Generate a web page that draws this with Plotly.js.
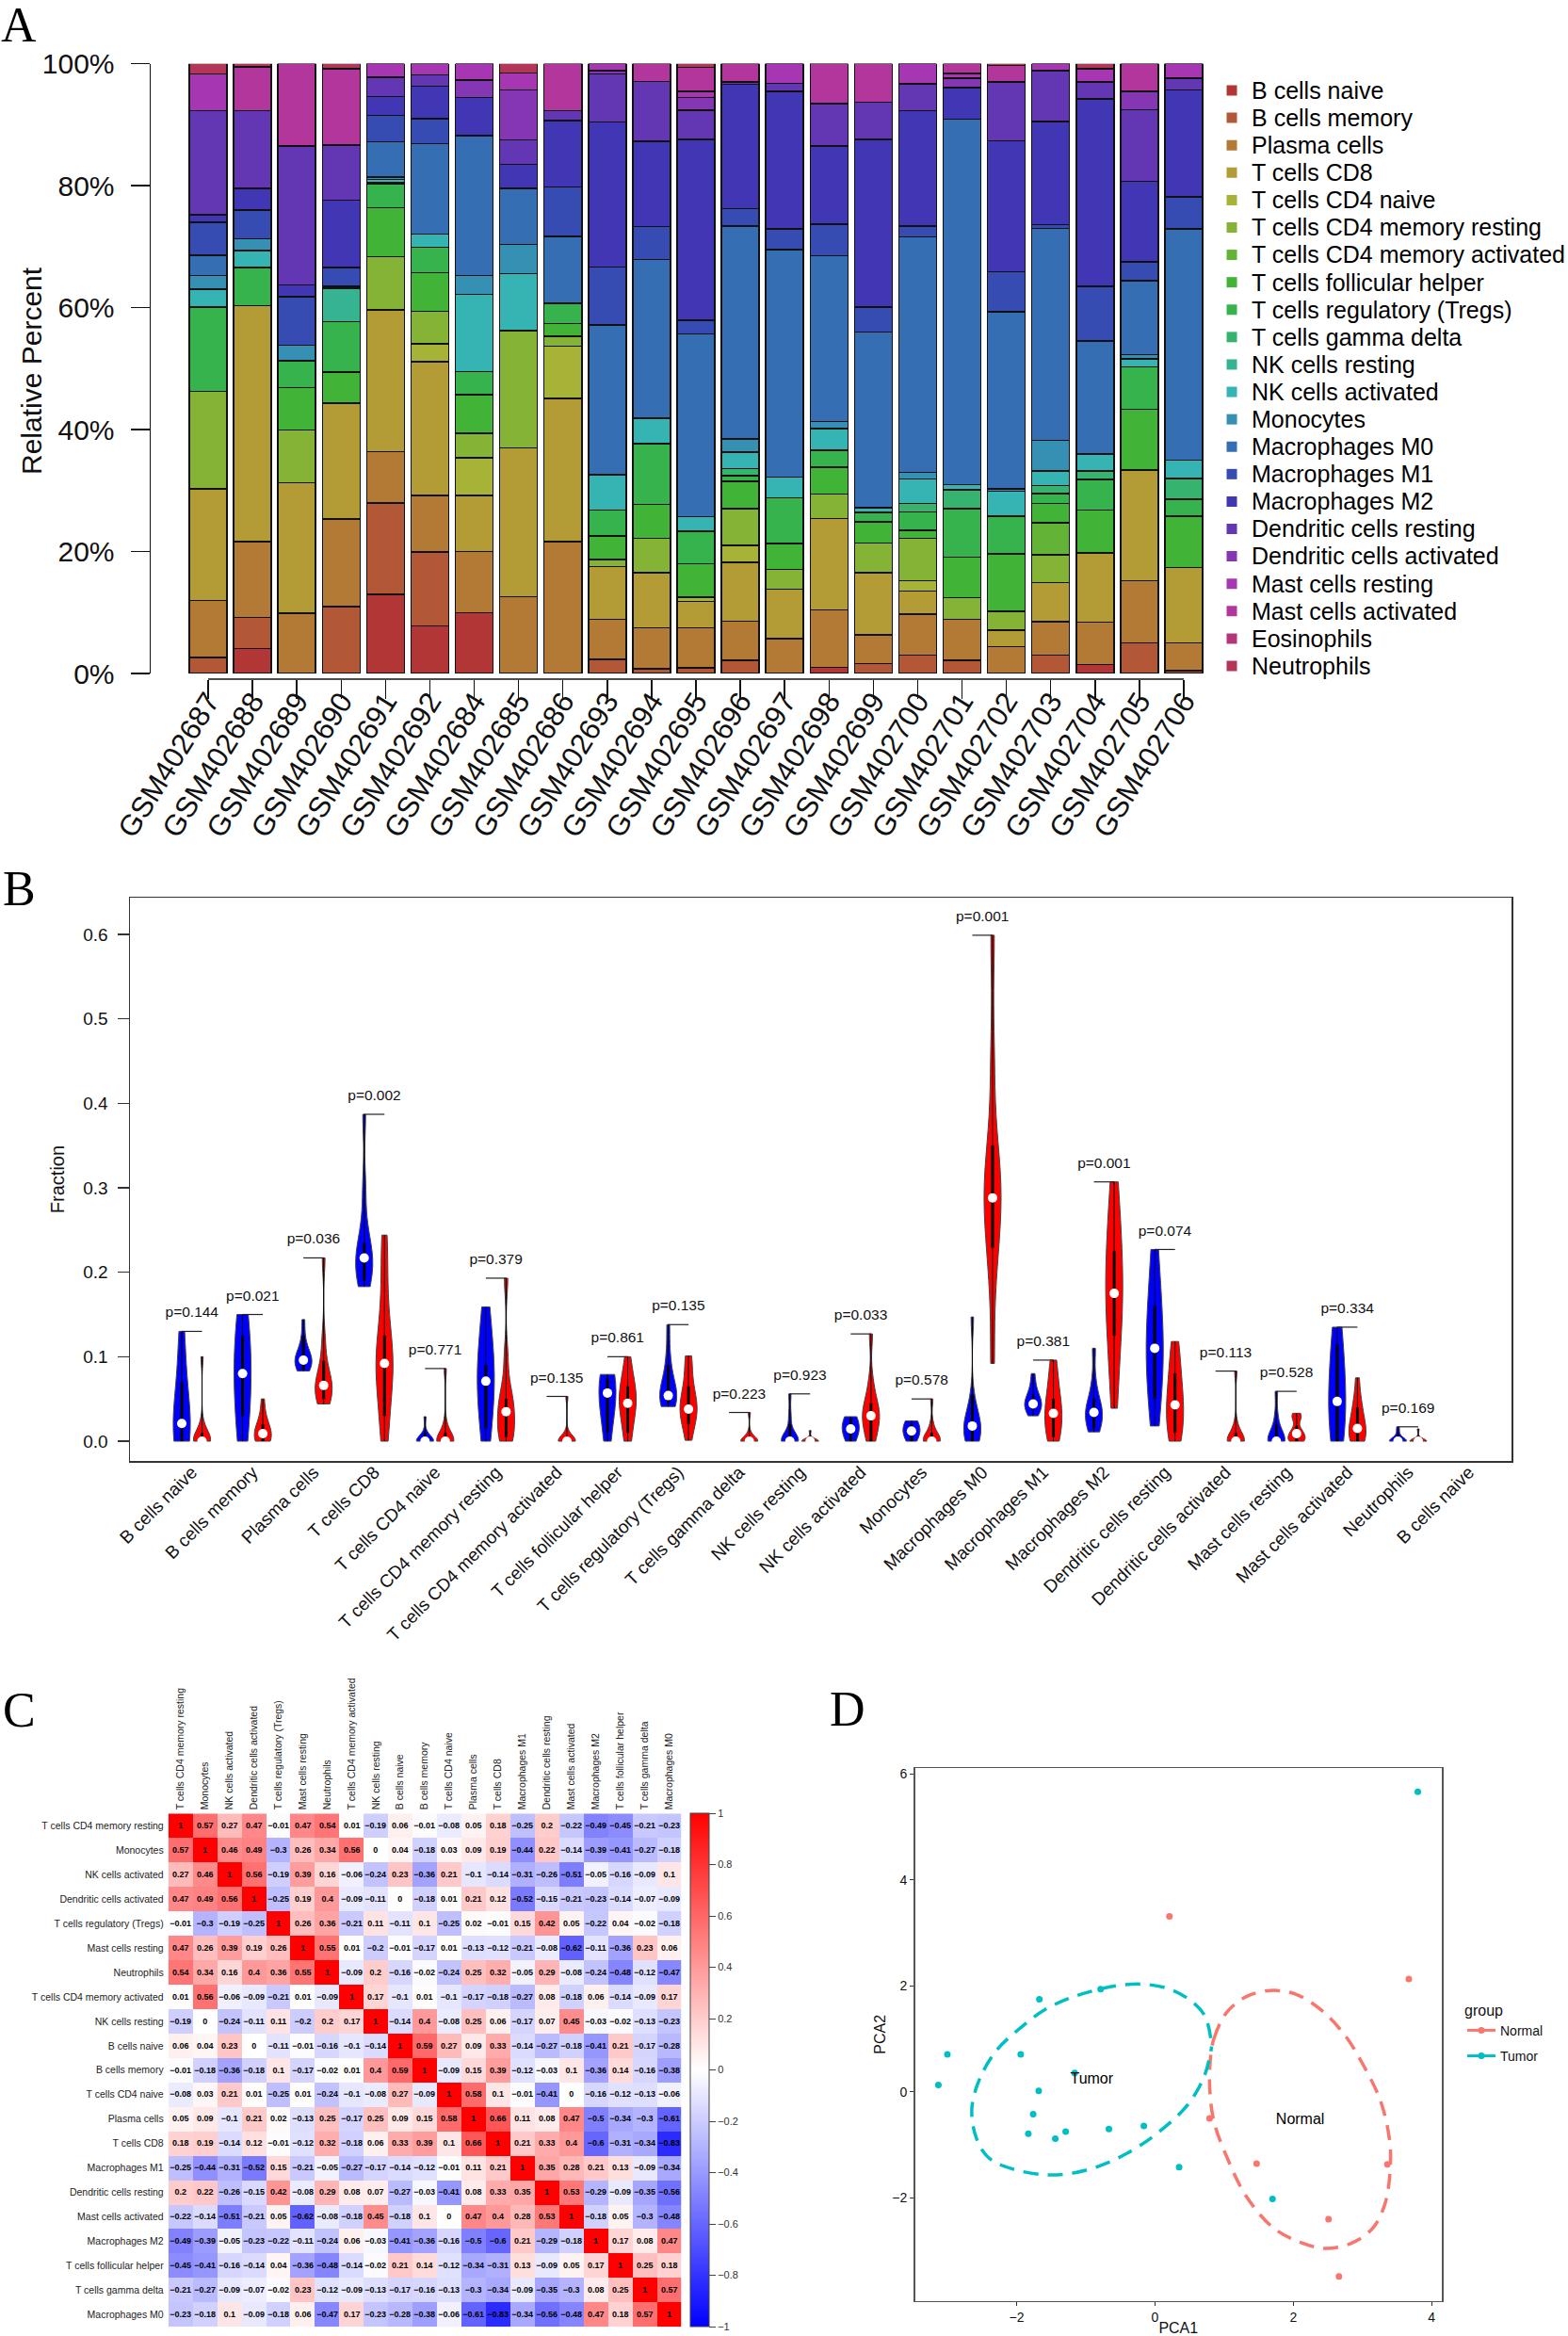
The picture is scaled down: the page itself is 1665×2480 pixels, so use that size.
<!DOCTYPE html>
<html><head><meta charset="utf-8">
<script src="https://cdn.plot.ly/plotly-3.0.1.min.js"></script>
<style>html,body{margin:0;padding:0;background:#fff}#c{width:1665px;height:2480px}</style>
</head><body><div id="c"></div>
<script>
/* ---------- Panel A data ---------- */
const samples=["GSM402687","GSM402688","GSM402689","GSM402690","GSM402691","GSM402692","GSM402684","GSM402685","GSM402686","GSM402693","GSM402694","GSM402695","GSM402696","GSM402697","GSM402698","GSM402699","GSM402700","GSM402701","GSM402702","GSM402703","GSM402704","GSM402705","GSM402706"];
const cellTypes=["B cells naive","B cells memory","Plasma cells","T cells CD8","T cells CD4 naive","T cells CD4 memory resting","T cells CD4 memory activated","T cells follicular helper","T cells regulatory (Tregs)","T cells gamma delta","NK cells resting","NK cells activated","Monocytes","Macrophages M0","Macrophages M1","Macrophages M2","Dendritic cells resting","Dendritic cells activated","Mast cells resting","Mast cells activated","Eosinophils","Neutrophils"];
const palette=["#B33636","#B35836","#B37A36","#B39C36","#A7B336","#85B336","#63B336","#41B336","#36B34C","#36B36E","#36B390","#36B3B3","#3690B3","#366EB3","#364CB3","#4136B3","#6336B3","#8536B3","#A736B3","#B3369C","#B3367A","#B33658"];
const fractions=[
[0,2.6,9.4,18.3,0,16,0,0,13.8,0,0,2.9,2.3,3.3,5.4,1.2,17.1,0,6,0,0,1.7],
[4.1,5.1,12.4,38.7,0,0,0,0,6.3,0,0,2.8,1.9,0,4.7,3.6,12.7,0,0,7.2,0,.5],
[0,0,9.9,21.4,0,8.6,0,7,4.4,0,0,0,2.5,0,8,1.9,22.8,0,0,13.5,0,0],
[0,11,14.3,19,0,0,0,5.1,8.3,0,5.5,.3,0,0,3.1,11,9.1,0,0,12.5,0,.8],
[13,15,8.4,23.2,0,8.8,0,8,3.9,0,.3,.4,.4,5.8,4.3,3.1,3.2,0,2.2,0,0,0],
[7.8,12.1,9.3,21.9,3,5.3,0,6.3,4.2,0,0,2.2,0,14.8,4.1,5.3,1.9,0,1.8,0,0,0],
[10,0,10,9.2,6.2,4,0,6.3,3.8,0,0,12.7,3.1,22.9,0,6.3,0,2.8,2.7,0,0,0],
[0,0,12.6,24.4,0,19.2,0,0,0,0,0,9.4,4.8,9.2,0,3.9,4,8.2,2.8,0,0,1.5],
[0,0,21.6,23.5,8.6,1.6,0,2.1,3.3,0,0,0,0,11,8.1,10.9,1.6,0,0,7.7,0,0],
[0,2.3,6.6,8.6,0,1.2,0,3.8,4.3,0,0,5.8,0,24.5,9.5,23.8,7.8,.6,1.1,0,0,0],
[0,.8,6.7,9,0,5.7,0,5.5,10,0,0,4.2,0,26,5.4,14,9.8,0,0,2.9,0,0],
[0,.9,6.6,4.3,.7,0,0,5.5,5.3,0,0,2.4,0,30,2.2,29.7,4.8,2.1,1,3.9,0,.6],
[0,2.2,6.4,9.6,2.8,6,0,4.5,.9,1.2,0,2.7,2.1,34.9,2.9,20.3,.4,0,0,3,0,0],
[0,0,5.7,8.1,0,3.3,0,4.2,7.5,0,0,3.4,0,37.3,3.4,22.6,1.3,0,3.2,0,0,0],
[1,0,9.4,15,0,4,0,4.4,2.8,0,0,3.6,1.1,27.2,5.2,12.8,7,0,0,6.5,0,0],
[0,1.6,4.7,10.2,0,4.9,0,3.5,1.5,0,0,.8,0,28.8,4.1,27.5,6.1,0,0,6.3,0,0],
[0,3,6.7,3.8,1.7,7,0,1.3,3,1.4,0,4,1.1,38.6,1.8,18.9,4.4,0,3.3,0,0,0],
[0,2.2,6.7,0,0,3.5,0,6.7,7.9,3.1,0,.9,0,59.9,0,5.2,0,1.5,.8,1.6,0,0],
[0,0,4.4,2.7,0,3.1,0,9.4,6.2,0,0,4.1,.4,29,6.6,21.5,9.6,0,0,2.7,0,.3],
[0,3,5.5,6.4,0,4.6,5.2,3.2,1.6,1.3,0,2.4,5,34.8,.6,16.9,8.4,0,1.1,0,0,0],
[1.5,0,6.9,11.4,0,0,0,7,5,1.4,0,2.8,0,18.5,9,30.7,2.8,0,2.2,0,0,.8],
[0,5,10.2,18.2,0,0,0,9.9,7,0,0,1.3,.7,12.1,3.1,13.2,11.8,3,0,4.5,0,0],
[0,.5,4.5,12.4,0,0,0,8.4,2.8,3.4,0,3,0,37.9,5.3,17.5,1.9,0,2.4,0,0,0]];

/* ---------- Panel B data: one entry per violin group ---------- */
const violinGroups=["B cells naive","B cells memory","Plasma cells","T cells CD8","T cells CD4 naive","T cells CD4 memory resting","T cells CD4 memory activated","T cells follicular helper","T cells regulatory (Tregs)","T cells gamma delta","NK cells resting","NK cells activated","Monocytes","Macrophages M0","Macrophages M1","Macrophages M2","Dendritic cells resting","Dendritic cells activated","Mast cells resting","Mast cells activated","Neutrophils","B cells naive"];
const pValues=["0.144","0.021","0.036","0.002","0.771","0.379","0.135","0.861","0.135","0.223","0.923","0.033","0.578","0.001","0.381","0.001","0.074","0.113","0.528","0.334","0.169",null];
const tumorSamples=[
[0,0,.005,.01,.02,.021,.03,.05,.08,.11,.13],[0,.01,.03,.06,.08,.08,.1,.12,.14,.15],[.083,.088,.09,.093,.096,.098,.1,.105,.12,.144],[.183,.19,.2,.21,.217,.22,.23,.25,.3,.387],
[0,0,0,0,0,0,0,.002,.01,.029],[0,.01,.04,.06,.071,.08,.09,.11,.14,.159],null,[0,.01,.03,.05,.057,.06,.065,.07,.075,.079],[.041,.045,.05,.052,.054,.058,.065,.08,.1,.138],null,
[0,0,0,0,0,0,.002,.01,.03,.056],[0,.003,.008,.012,.0145,.017,.02,.024,.027,.029],[0,.002,.006,.01,.012,.014,.016,.02,.023,.024],[0,0,.005,.01,.018,.02,.025,.03,.05,.147],[.03,.035,.04,.042,.044,.046,.05,.055,.065,.08],
[.011,.015,.02,.03,.034,.037,.042,.05,.07,.11],[.018,.05,.07,.09,.11,.12,.14,.16,.2,.227],null,[0,0,0,0,0,.002,.005,.015,.03,.059],[0,.01,.02,.03,.047,.06,.08,.1,.125,.135],[0,0,0,0,0,0,0,.002,.01,.017],null];
const normalSamples=[
[0,0,0,0,0,0,.005,.01,.02,.1],[0,0,0,.005,.009,.01,.015,.02,.03,.05],[.044,.05,.055,.06,.066,.07,.075,.09,.12,.217],[0,.03,.06,.08,.092,.1,.12,.15,.2,.244],
[0,0,0,0,0,0,.002,.005,.02,.086],[0,.005,.01,.02,.035,.04,.05,.06,.1,.193],[0,0,0,0,0,0,0,.003,.01,.053],[0,.01,.03,.04,.045,.05,.06,.065,.08,.1],[.001,.02,.03,.035,.038,.045,.055,.065,.09,.101],[0,0,0,0,0,0,0,.002,.01,.034],
[0,0,0,0,0,0,0,0,0,.0125],[0,.005,.02,.025,.03,.035,.04,.05,.07,.127],[0,0,0,0,0,.002,.005,.01,.02,.05],[.092,.2,.24,.27,.288,.3,.32,.35,.45,.599],[0,.005,.015,.025,.033,.04,.05,.06,.08,.096],
[.039,.09,.125,.15,.175,.19,.21,.24,.27,.307],[0,.005,.02,.03,.043,.05,.065,.08,.1,.118],[0,0,0,0,0,0,.003,.01,.02,.083],[0,0,.002,.005,.009,.01,.015,.025,.03,.033],[0,0,.005,.01,.015,.02,.03,.04,.05,.075],[0,0,0,0,0,0,0,0,0,.0145],null];
const tumorBandwidth=[.04,.05,.012,.025,.006,.04,0,.03,.018,0,.009,.012,.01,.018,.01,.015,.05,0,.011,.045,.004,0];
const normalBandwidth=[.01,.012,.018,.035,.01,.02,.006,.02,.018,.005,.003,.016,.008,.05,.02,.05,.025,.009,.005,.015,.003,0];
const tumorMedian=[.021,.08,.096,.217,0,.071,null,.057,.054,null,0,.0145,.012,.018,.044,.034,.11,null,0,.047,0,null];
const normalMedian=[0,.009,.066,.092,0,.035,0,.045,.038,0,0,.03,0,.288,.033,.175,.043,0,.009,.015,0,null];
const tumorQ1=[0,.03,.085,.19,0,.015,null,.01,.045,null,0,0,0,0,.037,.015,.05,null,0,0,0,null];
const tumorQ3=[.07,.125,.125,.235,.01,.09,null,.075,.09,null,.02,.027,.02,.055,.055,.05,.16,null,.02,.115,.008,null];
const normalQ1=[0,0,.05,.03,0,.005,0,.01,.02,0,0,0,0,.229,.005,.125,.01,0,0,0,0,null];
const normalQ3=[.01,.02,.095,.125,.01,.05,.005,.065,.065,.005,.004,.045,.01,.35,.05,.225,.08,.01,.018,.04,.006,null];

/* ---------- Panel C data ---------- */
const corrLabels=["T cells CD4 memory resting","Monocytes","NK cells activated","Dendritic cells activated","T cells regulatory (Tregs)","Mast cells resting","Neutrophils","T cells CD4 memory activated","NK cells resting","B cells naive","B cells memory","T cells CD4 naive","Plasma cells","T cells CD8","Macrophages M1","Dendritic cells resting","Mast cells activated","Macrophages M2","T cells follicular helper","T cells gamma delta","Macrophages M0"];
const corrMatrix=[
[1,.57,.27,.47,-.01,.47,.54,.01,-.19,.06,-.01,-.08,.05,.18,-.25,.2,-.22,-.49,-.45,-.21,-.23],
[.57,1,.46,.49,-.3,.26,.34,.56,0,.04,-.18,.03,.09,.19,-.44,.22,-.14,-.39,-.41,-.27,-.18],
[.27,.46,1,.56,-.19,.39,.16,-.06,-.24,.23,-.36,.21,-.1,-.14,-.31,-.26,-.51,-.05,-.16,-.09,.1],
[.47,.49,.56,1,-.25,.19,.4,-.09,-.11,0,-.18,.01,.21,.12,-.52,-.15,-.21,-.23,-.14,-.07,-.09],
[-.01,-.3,-.19,-.25,1,.26,.36,-.21,.11,-.11,.1,-.25,.02,-.01,.15,.42,.05,-.22,.04,-.02,-.18],
[.47,.26,.39,.19,.26,1,.55,.01,-.2,-.01,-.17,.01,-.13,-.12,-.21,-.08,-.62,-.11,-.36,.23,.06],
[.54,.34,.16,.4,.36,.55,1,-.09,.2,-.16,-.02,-.24,.25,.32,-.05,.29,-.08,-.24,-.48,-.12,-.47],
[.01,.56,-.06,-.09,-.21,.01,-.09,1,.17,-.1,.01,-.1,-.17,-.18,-.27,.08,-.18,.06,-.14,-.09,.17],
[-.19,0,-.24,-.11,.11,-.2,.2,.17,1,-.14,.4,-.08,.25,.06,-.17,.07,.45,-.03,-.02,-.13,-.23],
[.06,.04,.23,0,-.11,-.01,-.16,-.1,-.14,1,.59,.27,.09,.33,-.14,-.27,-.18,-.41,.21,-.17,-.28],
[-.01,-.18,-.36,-.18,.1,-.17,-.02,.01,.4,.59,1,-.09,.15,.39,-.12,-.03,.1,-.36,.14,-.16,-.38],
[-.08,.03,.21,.01,-.25,.01,-.24,-.1,-.08,.27,-.09,1,.58,.1,-.01,-.41,0,-.16,-.12,-.13,-.06],
[.05,.09,-.1,.21,.02,-.13,.25,-.17,.25,.09,.15,.58,1,.66,.11,.08,.47,-.5,-.34,-.3,-.61],
[.18,.19,-.14,.12,-.01,-.12,.32,-.18,.06,.33,.39,.1,.66,1,.21,.33,.4,-.6,-.31,-.34,-.83],
[-.25,-.44,-.31,-.52,.15,-.21,-.05,-.27,-.17,-.14,-.12,-.01,.11,.21,1,.35,.28,.21,.13,-.09,-.34],
[.2,.22,-.26,-.15,.42,-.08,.29,.08,.07,-.27,-.03,-.41,.08,.33,.35,1,.53,-.29,-.09,-.35,-.56],
[-.22,-.14,-.51,-.21,.05,-.62,-.08,-.18,.45,-.18,.1,0,.47,.4,.28,.53,1,-.18,.05,-.3,-.48],
[-.49,-.39,-.05,-.23,-.22,-.11,-.24,.06,-.03,-.41,-.36,-.16,-.5,-.6,.21,-.29,-.18,1,.17,.08,.47],
[-.45,-.41,-.16,-.14,.04,-.36,-.48,-.14,-.02,.21,.14,-.12,-.34,-.31,.13,-.09,.05,.17,1,.25,.18],
[-.21,-.27,-.09,-.07,-.02,.23,-.12,-.09,-.13,-.17,-.16,-.13,-.3,-.34,-.09,-.35,-.3,.08,.25,1,.57],
[-.23,-.18,.1,-.09,-.18,.06,-.47,.17,-.23,-.28,-.38,-.06,-.61,-.83,-.34,-.56,-.48,.47,.18,.57,1]];

/* ---------- Panel D data ---------- */
const tumorX=[3.8,-.785,-1.67,-3,-1.94,-3.13,-1.16,-1.68,-1.76,-1.83,-1.44,-1.29,-.665,-.16,.35,1.7];
const tumorY=[5.66,1.94,1.75,.71,.71,.13,.36,.02,-.42,-.79,-.88,-.75,-.7,-.64,-1.42,-2.02];
const normalX=[.21,3.67,.79,1.47,3.36,2.51,2.66];
const normalY=[3.31,2.13,-.5,-1.35,-1.365,-2.4,-3.48];
const tumorEllipseX=[.807,.715,.467,.184,-.17,-.524,-.878,-1.231,-1.585,-1.939,-2.293,-2.541,-2.647,-2.576,-2.399,-2.081,-1.585,-1.161,-.736,-.311,.042,.467,.715,.821];
const tumorEllipseY=[1.016,1.452,1.77,1.952,2.032,2.008,1.913,1.77,1.556,1.214,.778,.222,-.333,-.889,-1.246,-1.444,-1.563,-1.524,-1.365,-1.087,-.77,-.254,.302,.857];
const normalEllipseX=[.807,.856,1.033,1.316,1.67,2.024,2.378,2.732,3.015,3.263,3.39,3.404,3.333,3.156,2.873,2.484,2.095,1.706,1.316,1.033,.856,.793,.807];
const normalEllipseY=[.698,1.016,1.492,1.794,1.913,1.849,1.571,1.095,.5,-.175,-.889,-1.365,-2.079,-2.556,-2.833,-2.952,-2.833,-2.556,-1.96,-1.206,-.571,.063,.698];

/* ---------- Layout helpers ---------- */
const W=1665,H=2480;
const fx=(a,b)=>[a/W,b/W];
const fy=(t,b)=>[1-b/H,1-t/H];
const SANS="Liberation Sans, Arial, sans-serif";
const SERIF="Liberation Serif, Times New Roman, serif";
const RED="#FF0000",BLUE="#0000FF",CORAL="#F8766D",TEAL="#00BFC4";
const traces=[];

/* Panel A: stacked bars */
cellTypes.forEach((name,k)=>traces.push({type:"bar",x:samples,y:fractions.map(r=>r[k]),name,marker:{color:palette[k],line:{color:"#111",width:1.5}},width:.85,xaxis:"x",yaxis:"y",showlegend:false,hoverinfo:"skip"}));
/* Panel A legend drawn on its own hidden axes */
const rowIdx=cellTypes.map((_,i)=>i);
traces.push({type:"scatter",mode:"markers",x:cellTypes.map(()=>0),y:rowIdx,marker:{symbol:"square",size:11,color:palette},xaxis:"x5",yaxis:"y5",showlegend:false,hoverinfo:"skip"});
traces.push({type:"scatter",mode:"text",cliponaxis:false,x:cellTypes.map(()=>1.75),y:rowIdx.map(i=>i+.09),text:cellTypes,textposition:"middle right",textfont:{family:SANS,size:25,color:"#000"},xaxis:"x5",yaxis:"y5",showlegend:false,hoverinfo:"skip"});

/* Panel B: violins */
const tumorPos=i=>3*i+1, normalPos=i=>3*i+2, groupPos=i=>3*i+1.5;
function addViolins(sets,bw,color,pos){
  sets.forEach((s,i)=>{ if(!s) return;
    traces.push({type:"violin",x0:pos(i),y:s,name:violinGroups[i],width:.84,scalemode:"width",spanmode:"hard",bandwidth:bw[i],points:false,
      side:"both",fillcolor:color,line:{color:"#444",width:1},box:{visible:false},meanline:{visible:false},xaxis:"x2",yaxis:"y2",showlegend:false,hoverinfo:"skip",orientation:"v"});
  });
}
addViolins(tumorSamples,tumorBandwidth,BLUE,tumorPos);
addViolins(normalSamples,normalBandwidth,RED,normalPos);
function addInner(med,q1,q3,sets,pos){
  const xs=med.map((_,i)=>pos(i));
  const hi=sets.map((s,i)=>s?Math.max(...s)-med[i]:0), lo=sets.map((s,i)=>s?med[i]-Math.min(...s):0);
  traces.push({type:"scatter",mode:"markers",x:xs,y:med,marker:{size:1,color:"#000"},error_y:{type:"data",symmetric:false,array:hi,arrayminus:lo,thickness:1,width:0,color:"#000"},xaxis:"x2",yaxis:"y2",showlegend:false,hoverinfo:"skip"});
  traces.push({type:"scatter",mode:"markers",x:xs,y:med,marker:{size:10,color:"#fff"},error_y:{type:"data",symmetric:false,array:q3.map((v,i)=>v===null?0:v-med[i]),arrayminus:q1.map((v,i)=>v===null?0:med[i]-v),thickness:3,width:0,color:"#000"},xaxis:"x2",yaxis:"y2",showlegend:false,hoverinfo:"skip"});
}
addInner(tumorMedian,tumorQ1,tumorQ3,tumorSamples,tumorPos);
addInner(normalMedian,normalQ1,normalQ3,normalSamples,normalPos);
/* p-value brackets and labels */
const groupMax=violinGroups.map((_,i)=>Math.max(...(tumorSamples[i]||[0]),...(normalSamples[i]||[0])));
const brX=[],brY=[],pX=[],pY=[],pT=[];
pValues.forEach((p,i)=>{ if(p===null) return;
  brX.push(tumorPos(i),normalPos(i),null); brY.push(groupMax[i],groupMax[i],null);
  pX.push(groupPos(i)); pY.push(groupMax[i]+.021); pT.push("p="+p);
});
traces.push({type:"scatter",mode:"lines",x:brX,y:brY,line:{color:"#222",width:1.2},xaxis:"x2",yaxis:"y2",showlegend:false,hoverinfo:"skip"});
traces.push({type:"scatter",mode:"text",x:pX,y:pY,text:pT,textposition:"middle center",textfont:{family:SANS,size:15.5,color:"#111"},xaxis:"x2",yaxis:"y2",showlegend:false,hoverinfo:"skip"});

/* Panel C: correlation heatmap */
const fmt=v=>String(v).replace("-","\u2212");
traces.push({type:"heatmap",x:corrLabels,y:corrLabels,z:corrMatrix,zmin:-1,zmax:1,
  colorscale:[[0,BLUE],[.5,"#FFFFFF"],[1,RED]],text:corrMatrix.map(r=>r.map(fmt)),texttemplate:"%{text}",
  textfont:{family:"Liberation Sans, Arial, sans-serif",size:9,color:"#000",weight:700},xgap:0,ygap:0,xaxis:"x3",yaxis:"y3",hoverinfo:"skip",
  colorbar:{x:733/W,xanchor:"left",y:1-2470/H,yanchor:"bottom",len:545/H,lenmode:"fraction",thickness:20,thicknessmode:"pixels",xpad:0,ypad:0,outlinewidth:1,outlinecolor:"#444",
    tickvals:[-1,-.8,-.6,-.4,-.2,0,.2,.4,.6,.8,1],ticktext:["\u22121","\u22120.8","\u22120.6","\u22120.4","\u22120.2","0","0.2","0.4","0.6","0.8","1"],ticks:"outside",ticklen:7,tickcolor:"#444",tickfont:{family:SANS,size:11,color:"#333"}}});

/* Panel D: PCA */
traces.push({type:"scatter",mode:"lines",x:normalEllipseX,y:normalEllipseY,line:{color:CORAL,width:3.5,dash:"16px,10px",shape:"spline"},xaxis:"x4",yaxis:"y4",showlegend:false,hoverinfo:"skip"});
traces.push({type:"scatter",mode:"lines",x:tumorEllipseX,y:tumorEllipseY,line:{color:TEAL,width:3.5,dash:"16px,10px",shape:"spline"},xaxis:"x4",yaxis:"y4",showlegend:false,hoverinfo:"skip"});
traces.push({type:"scatter",mode:"markers",name:"Normal points",x:normalX,y:normalY,marker:{color:CORAL,size:7},xaxis:"x4",yaxis:"y4",showlegend:false,hoverinfo:"skip"});
traces.push({type:"scatter",mode:"markers",name:"Tumor points",x:tumorX,y:tumorY,marker:{color:TEAL,size:7},xaxis:"x4",yaxis:"y4",showlegend:false,hoverinfo:"skip"});
traces.push({type:"scatter",mode:"lines+markers",name:"Normal",x:[null],y:[null],line:{color:CORAL,width:3},marker:{color:CORAL,size:7},xaxis:"x4",yaxis:"y4",hoverinfo:"skip",legendgroup:"n"});
traces.push({type:"scatter",mode:"lines+markers",name:"Tumor",x:[null],y:[null],line:{color:TEAL,width:3},marker:{color:TEAL,size:7},xaxis:"x4",yaxis:"y4",hoverinfo:"skip",legendgroup:"t"});
traces.push({type:"scatter",mode:"text",x:[-.913,2.1],y:[.222,-.53],text:["Tumor","Normal"],textposition:"middle center",textfont:{family:SANS,size:16,color:"#000"},xaxis:"x4",yaxis:"y4",showlegend:false,hoverinfo:"skip"});

const panelLetter=(t,x,y)=>({text:t,x:x/W,y:1-y/H,xref:"paper",yref:"paper",xanchor:"center",yanchor:"middle",showarrow:false,font:{family:SERIF,size:52,color:"#000"}});

const layout={
  width:W,height:H,margin:{l:0,r:0,t:0,b:0,pad:0},paper_bgcolor:"#fff",plot_bgcolor:"#fff",barmode:"stack",barnorm:"percent",
  font:{family:SANS,color:"#000"},
  xaxis:{domain:fx(197.5,1280.5),range:[-.5,22.5],type:"category",anchor:"free",position:1-721/H,showline:false,showgrid:false,zeroline:false,ticks:"outside",ticklen:20,tickwidth:1.5,tickcolor:"#111",tickangle:-58,ticklabelstandoff:-28,tickfont:{family:SANS,size:31,color:"#111"}},
  yaxis:{domain:fy(67.7,715),range:[0,100],anchor:"free",position:158.5/W,showline:true,linewidth:1.5,linecolor:"#111",showgrid:false,zeroline:false,ticks:"outside",ticklen:20,tickwidth:1.5,tickcolor:"#111",tickvals:[0,20,40,60,80,100],ticktext:["0%","20%","40%","60%","80%","100%"],ticklabelstandoff:11,tickfont:{family:SANS,size:30,color:"#111"}},
  xaxis5:{domain:fx(1296,1660),range:[-1,29.3],visible:false,anchor:"y5"},
  yaxis5:{domain:fy(96-14.55,707+14.55),range:[21.5,-.5],visible:false,anchor:"x5"},
  xaxis2:{domain:fx(138,1605),range:[-1.556,66.6],anchor:"y2",showline:true,mirror:true,linecolor:"#333",linewidth:1.5,showgrid:false,zeroline:false,ticks:"",tickmode:"array",tickvals:violinGroups.map((_,i)=>groupPos(i)),ticktext:violinGroups,tickangle:-45,ticklabelstandoff:-8,tickfont:{family:SANS,size:19,color:"#111"}},
  yaxis2:{domain:fy(953,1551),range:[-.0234,.6435],anchor:"x2",showline:true,mirror:true,linecolor:"#333",linewidth:1.5,showgrid:false,zeroline:false,ticks:"outside",ticklen:12,tickwidth:1.2,tickcolor:"#333",tickvals:[0,.1,.2,.3,.4,.5,.6],ticktext:["0.0","0.1","0.2","0.3","0.4","0.5","0.6"],ticklabelstandoff:6,tickfont:{family:SANS,size:19,color:"#111"},title:{text:"Fraction",font:{family:SANS,size:20,color:"#111"},standoff:14}},
  xaxis3:{domain:fx(178.7,723.3),anchor:"y3",side:"top",tickangle:-90,ticks:"",ticklabelstandoff:3,showgrid:false,zeroline:false,showline:false,tickfont:{family:SANS,size:10.5,color:"#222"}},
  yaxis3:{domain:fy(1925.3,2470.3),anchor:"x3",autorange:"reversed",ticks:"",ticklabelstandoff:4,showgrid:false,zeroline:false,showline:false,tickfont:{family:SANS,size:10.5,color:"#222"}},
  xaxis4:{domain:fx(971.6,1531),range:[-3.468,4.147],anchor:"y4",showline:true,mirror:true,linecolor:"#555",linewidth:1.5,showgrid:false,zeroline:false,ticks:"outside",ticklen:4,tickcolor:"#333",tickvals:[-2,0,2,4],tickfont:{family:SANS,size:14,color:"#111"},title:{text:"PCA1",font:{family:SANS,size:16,color:"#111"},standoff:4}},
  yaxis4:{domain:fy(1877,2442.5),range:[-3.937,6.11],anchor:"x4",showline:true,mirror:true,linecolor:"#555",linewidth:1.5,showgrid:false,zeroline:false,ticks:"outside",ticklen:4,tickcolor:"#333",tickvals:[-2,0,2,4,6],tickfont:{family:SANS,size:14,color:"#111"},title:{text:"PCA2",font:{family:SANS,size:16,color:"#111"},standoff:2}},
  showlegend:true,
  legend:{x:1553/W,y:1-2119/H,xanchor:"left",yanchor:"top",title:{text:"group",font:{family:SANS,size:16,color:"#111"}},font:{family:SANS,size:14,color:"#111"},bgcolor:"rgba(0,0,0,0)",tracegroupgap:6,itemclick:false,itemdoubleclick:false},
  annotations:[panelLetter("A",20,26),panelLetter("B",20,943),panelLetter("C",20,1815),panelLetter("D",900,1814),
    {text:"Relative Percent",x:33/W,y:1-394/H,xref:"paper",yref:"paper",xanchor:"center",yanchor:"middle",textangle:-90,showarrow:false,font:{family:SANS,size:30,color:"#111"}}],
  shapes:[{type:"line",xref:"x",yref:"paper",x0:samples[0],x1:samples[samples.length-1],y0:1-721/H,y1:1-721/H,line:{color:"#111",width:1.5}}]
};
Plotly.newPlot("c",traces,layout,{staticPlot:true,displayModeBar:false,responsive:false});
</script></body></html>
